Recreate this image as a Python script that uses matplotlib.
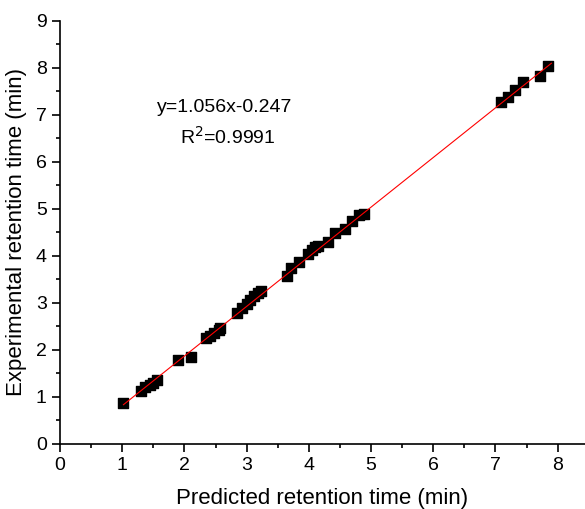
import matplotlib
matplotlib.use('Agg')
import matplotlib.pyplot as plt
import numpy as np
from matplotlib.ticker import MultipleLocator

# predicted vs experimental retention times (min)
predicted = [1.01, 1.30, 1.37, 1.44, 1.50, 1.56, 1.89, 2.11,
             2.35, 2.41, 2.48, 2.55, 2.58, 2.84, 2.92, 3.00, 3.06, 3.12, 3.18, 3.23,
             3.65, 3.71, 3.85, 3.98, 4.05, 4.10, 4.15, 4.31, 4.42, 4.58, 4.69, 4.80, 4.88,
             7.09, 7.21, 7.32, 7.45, 7.72, 7.85]
experimental = [0.86, 1.13, 1.20, 1.25, 1.30, 1.36, 1.78, 1.84,
                2.24, 2.29, 2.35, 2.42, 2.46, 2.79, 2.88, 2.97, 3.06, 3.14, 3.21, 3.25,
                3.57, 3.74, 3.87, 4.04, 4.12, 4.18, 4.21, 4.30, 4.48, 4.56, 4.74, 4.87, 4.89,
                7.26, 7.38, 7.52, 7.70, 7.82, 8.04]
slope, intercept = 1.056, -0.247
fit_x = [1.02, 7.90]

plt.rcParams['font.family'] = ['Liberation Sans', 'DejaVu Sans']

fig = plt.figure(figsize=(5.85, 5.09), dpi=100)
ax = fig.add_axes([60 / 585, 0.1283, 525 / 585, 0.831])

ax.scatter(predicted, experimental, marker='s', s=50, color='black', zorder=2)
fx = np.array(fit_x)
ax.plot(fx, slope * fx + intercept, color='red', lw=0.8, zorder=3)

ax.set_xlim(0, 8.44)
ax.set_ylim(0, 9)
ax.xaxis.set_major_locator(MultipleLocator(1))
ax.xaxis.set_minor_locator(MultipleLocator(0.5))
ax.yaxis.set_major_locator(MultipleLocator(1))
ax.yaxis.set_minor_locator(MultipleLocator(0.5))

for side in ['top', 'right']:
    ax.spines[side].set_visible(False)
for side in ['left', 'bottom']:
    ax.spines[side].set_linewidth(1.2)
ax.tick_params(which='major', direction='out', length=6, width=1.2, labelsize=14)
ax.tick_params(which='minor', direction='out', length=3, width=1.2)

ax.set_xlabel('Predicted retention time (min)', fontsize=16, labelpad=10)
ax.set_ylabel('Experimental retention time (min)', fontsize=16, labelpad=6)

ax.text(2.65, 7.16, 'y=1.056x-0.247', fontsize=14, ha='center', va='center')
ax.text(2.70, 6.52, 'R$^2$=0.9991', fontsize=14, ha='center', va='center')

fig.savefig('out.png', dpi=100)
